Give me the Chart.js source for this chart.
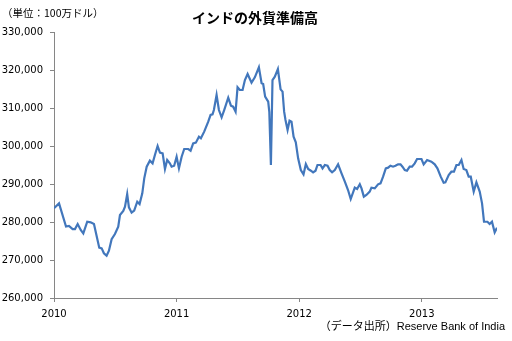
<!DOCTYPE html>
<html>
<head>
<meta charset="utf-8">
<script src="https://cdn.jsdelivr.net/npm/chart.js@4"></script>
<style>
  html, body { margin: 0; padding: 0; background: #fff; }
  #wrap { width: 512px; height: 341px; position: relative; }
</style>
</head>
<body>
<div id="wrap"><canvas id="reservasChart"></canvas></div>
<script>
// fecha en años decimales (semanal aprox.)
var semanas = [
  2010.000, 2010.041, 2010.098, 2010.122, 2010.152, 2010.171, 2010.193, 2010.218, 2010.239, 2010.271,
  2010.299, 2010.326, 2010.340, 2010.369, 2010.389, 2010.407, 2010.429, 2010.448, 2010.470, 2010.497,
  2010.524, 2010.538, 2010.565, 2010.579, 2010.597, 2010.611, 2010.633, 2010.654, 2010.679, 2010.698,
  2010.720, 2010.736, 2010.756, 2010.782, 2010.804, 2010.823, 2010.845, 2010.864, 2010.886, 2010.905,
  2010.923, 2010.945, 2010.959, 2010.980, 2011.000, 2011.019, 2011.041, 2011.062, 2011.095, 2011.114,
  2011.135, 2011.157, 2011.182, 2011.198, 2011.225, 2011.258, 2011.277, 2011.293, 2011.304, 2011.326,
  2011.345, 2011.367, 2011.388, 2011.421, 2011.443, 2011.461, 2011.481, 2011.497, 2011.516, 2011.538,
  2011.557, 2011.579, 2011.611, 2011.638, 2011.671, 2011.693, 2011.706, 2011.722, 2011.747, 2011.756,
  2011.769, 2011.782, 2011.801, 2011.826, 2011.848, 2011.864, 2011.877, 2011.888, 2011.905, 2011.921,
  2011.937, 2011.954, 2011.972, 2011.991, 2012.013, 2012.035, 2012.054, 2012.073, 2012.095, 2012.113,
  2012.133, 2012.149, 2012.174, 2012.190, 2012.209, 2012.231, 2012.249, 2012.268, 2012.290, 2012.317,
  2012.345, 2012.372, 2012.398, 2012.420, 2012.453, 2012.472, 2012.494, 2012.508, 2012.527, 2012.548,
  2012.575, 2012.589, 2012.616, 2012.643, 2012.663, 2012.684, 2012.706, 2012.725, 2012.744, 2012.765,
  2012.785, 2012.806, 2012.826, 2012.842, 2012.861, 2012.879, 2012.901, 2012.920, 2012.942, 2012.961,
  2012.983, 2012.997, 2013.015, 2013.043, 2013.078, 2013.105, 2013.127, 2013.154, 2013.178, 2013.192,
  2013.219, 2013.241, 2013.262, 2013.282, 2013.301, 2013.323, 2013.341, 2013.363, 2013.382, 2013.399,
  2013.423, 2013.445, 2013.472, 2013.491, 2013.507, 2013.535, 2013.553, 2013.572, 2013.594, 2013.613
];

// reservas en millones de dólares
var reservas = [
  283600, 284900, 278800, 278950, 278150, 278150, 279470, 277900, 277000, 280070,
  279900, 279470, 277450, 273240, 273070, 271760, 271140, 272460, 275450, 276840,
  278770, 281840, 282890, 284030, 287370, 283860, 282460, 282980, 285350, 284740,
  287540, 291490, 294560, 296140, 295440, 297630, 300000, 298250, 298070, 293950,
  296320, 295440, 294560, 294820, 297190, 294120, 297190, 299210, 299210, 298770,
  300700, 300880, 302460, 302020, 303780, 306400, 308160, 308330, 309470, 313420,
  309470, 307540, 309470, 312720, 310610, 310350, 309040, 315450, 314740, 314740,
  317370, 318950, 316670, 318070, 320700, 316500, 316320, 312980, 311660, 309000,
  295000, 317370, 318240, 320260, 314910, 314300, 309040, 306840, 304210, 306670,
  306400, 302460, 300970, 296760, 293680, 292550, 295260, 293950, 293500, 293070,
  293500, 295000, 295000, 294120, 295000, 294820, 293680, 293070, 293680, 295180,
  292810, 290610, 288420, 286050, 289040, 288680, 289920, 288860, 286670, 287110,
  287990, 289040, 288860, 289920, 290180, 291930, 294120, 294300, 294820, 294560,
  294820, 295180, 295180, 294560, 293680, 293500, 294560, 294560, 295440, 296580,
  296580, 296580, 295180, 296320, 295880, 295180, 294120, 291930, 290350, 290440,
  292370, 293240, 293240, 295000, 295000, 296320, 293950, 293680, 291930, 291930,
  287990, 290440, 287990, 284920, 280070, 280070, 279470, 280070, 277280, 278500
];

var anios = [2010, 2011, 2012, 2013];
var titulo = 'インドの外貨準備高';
var unidad = '（単位：100万ドル）';
var fuente = '（データ出所）Reserve Bank of India';

var puntos = semanas.map(function(s, i) { return { x: s, y: reservas[i] }; });

// textos fuera del gráfico
var textosPlugin = {
    id: 'textos',
    afterDraw: function(chart) {
        var ctx = chart.ctx;
        ctx.save();
        ctx.fillStyle = '#000';
        ctx.textBaseline = 'middle';
        ctx.font = 'bold 14px "Noto Sans CJK JP"';
        ctx.textAlign = 'center';
        ctx.fillText(titulo, 255, 18);
        ctx.font = '10.5px "Noto Sans CJK JP"';
        ctx.textAlign = 'left';
        ctx.fillText(unidad, 2, 13);
        ctx.font = '11px "Liberation Sans", "Noto Sans CJK JP"';
        ctx.textAlign = 'right';
        ctx.fillText(fuente, 505, 327);
        ctx.restore();
    }
};

var reservasChart = new Chart(document.getElementById('reservasChart'), {
    type: 'line',
    data: {
        datasets: [{
            label: 'Reserves',
            data: puntos,
            borderColor: '#4277bc',
            borderWidth: 2.2,
            pointRadius: 0,
            tension: 0,
            fill: false
        }]
    },
    options: {
        responsive: true,
        maintainAspectRatio: false,
        animation: false,
        layout: { padding: { top: 32, right: 15, left: 0, bottom: 0 } },
        plugins: {
            legend: { display: false },
            tooltip: { enabled: false }
        },
        scales: {
            x: {
                type: 'linear',
                min: 2010,
                max: 2013.613,
                afterBuildTicks: function(scale) {
                    scale.ticks = anios.map(function(a) { return { value: a }; });
                },
                afterFit: function(scale) { scale.height = 43; },
                grid: { drawOnChartArea: false, drawTicks: true, tickLength: 4, color: '#868686' },
                border: { color: '#868686', width: 1 },
                ticks: {
                    padding: 6,
                    maxRotation: 0,
                    color: '#000',
                    font: { family: 'DejaVu Sans', size: 10 },
                    callback: function(v) { return String(v); }
                }
            },
            y: {
                min: 260000,
                max: 330000,
                afterFit: function(scale) { scale.width = 54; },
                grid: { drawOnChartArea: false, drawTicks: true, tickLength: 4, color: '#868686' },
                border: { color: '#868686', width: 1 },
                ticks: {
                    stepSize: 10000,
                    padding: 7,
                    color: '#000',
                    font: { family: 'DejaVu Sans', size: 10 },
                    callback: function(v) { return v.toLocaleString('en-US'); }
                }
            }
        }
    },
    plugins: [textosPlugin]
});
</script>
</body>
</html>
